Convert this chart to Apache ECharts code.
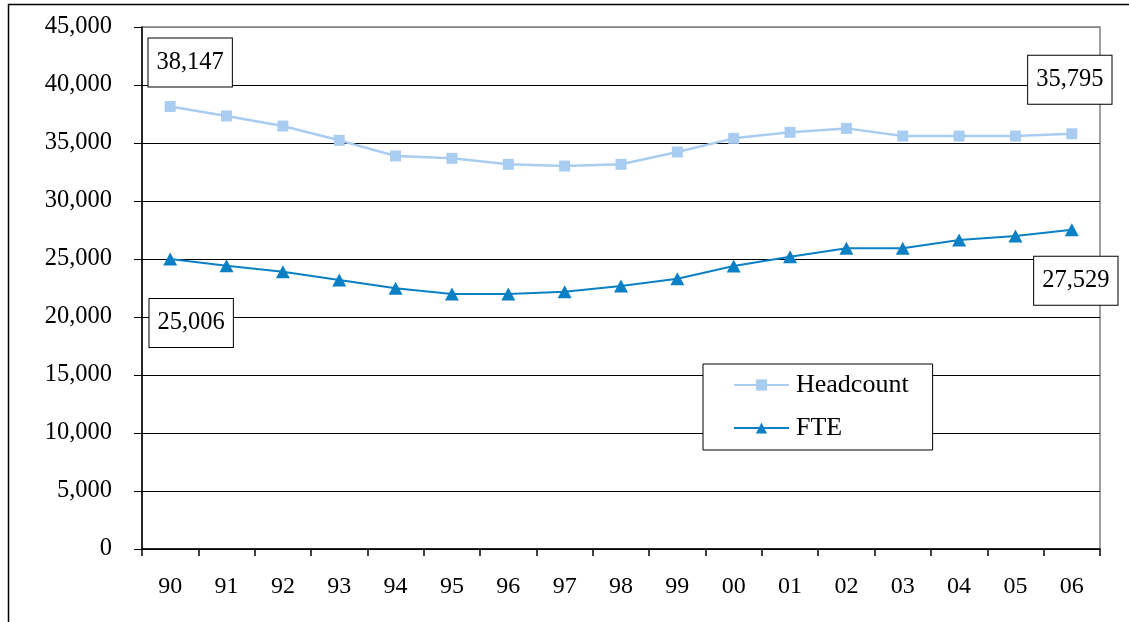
<!DOCTYPE html>
<html>
<head>
<meta charset="utf-8">
<script src="https://cdn.jsdelivr.net/npm/echarts@6/dist/echarts.min.js"></script>
<style>
  html, body { margin: 0; padding: 0; background: #fff; }
  #chart { width: 1129px; height: 622px; }
</style>
</head>
<body>
<div id="chart"></div>
<script>
// Years (two-digit), 1990 through 2006
const years = ['90','91','92','93','94','95','96','97','98','99','00','01','02','03','04','05','06'];

// Staff counts per year
const headcount = [38147, 37330, 36460, 35230, 33880, 33680, 33160, 33010, 33160, 34220, 35400, 35920, 36260, 35600, 35600, 35600, 35795];
const fte       = [25006, 24420, 23900, 23190, 22470, 21980, 21980, 22180, 22670, 23300, 24400, 25200, 25920, 25920, 26640, 26980, 27529];

// Value axis ticks
const yTicks = [0, 5000, 10000, 15000, 20000, 25000, 30000, 35000, 40000, 45000];

const FONT = '"Liberation Serif", "Times New Roman", serif';
const fmt = v => Number(v).toLocaleString('en-US');

const boxLabel = offset => ({
  show: true,
  position: 'inside',
  offset: offset,
  formatter: p => fmt(p.value),
  fontFamily: FONT,
  fontSize: 24.5,
  color: '#000',
  lineHeight: 26,
  backgroundColor: '#fff',
  borderColor: '#000',
  borderWidth: 1,
  padding: [11, 8, 11, 8]
});

// Attach boxed value labels to the first and last point of a series
function withEndLabels(values, firstOffset, lastOffset) {
  return values.map((v, i) => {
    if (i === 0) return { value: v, label: boxLabel(firstOffset) };
    if (i === values.length - 1) return { value: v, label: boxLabel(lastOffset) };
    return v;
  });
}

const gridColors = yTicks.map((t, i) => i === yTicks.length - 1 ? '#808080' : '#000');

const chart = echarts.init(document.getElementById('chart'), null, { renderer: 'canvas' });

chart.setOption({
  animation: false,
  backgroundColor: '#fff',
  textStyle: { fontFamily: FONT },
  graphic: [{
    type: 'rect',
    shape: { x: 8.5, y: 4.5, width: 1140, height: 640 },
    style: { fill: 'none', stroke: '#000', lineWidth: 1.5 },
    silent: true,
    z: 100
  }],
  grid: {
    left: 142, right: 29, top: 27, bottom: 73,
    show: true,
    borderColor: '#808080',
    borderWidth: 1.5,
    backgroundColor: 'transparent'
  },
  legend: {
    orient: 'vertical',
    left: 703,
    top: 364,
    padding: [8, 24, 9, 30],
    itemGap: 17,
    itemWidth: 55,
    itemHeight: 14,
    backgroundColor: '#fff',
    borderColor: '#000',
    borderWidth: 1,
    borderRadius: 0,
    textStyle: { fontFamily: FONT, fontSize: 26, color: '#000', padding: [0, 0, 0, 2] },
    data: ['Headcount', 'FTE']
  },
  xAxis: {
    type: 'category',
    data: years,
    boundaryGap: true,
    axisLine: { show: true, lineStyle: { color: '#000', width: 1.5 } },
    axisTick: { show: true, length: 7, lineStyle: { color: '#000', width: 1.5 } },
    axisLabel: { margin: 26, fontFamily: FONT, fontSize: 24, color: '#000' },
    splitLine: { show: false }
  },
  yAxis: {
    type: 'value',
    min: 0,
    max: 45000,
    interval: 5000,
    axisLine: { show: true, lineStyle: { color: '#000', width: 1.5 } },
    axisTick: { show: true, length: 8, lineStyle: { color: '#000', width: 1 } },
    axisLabel: { margin: 30, fontFamily: FONT, fontSize: 24.5, color: '#000', formatter: v => fmt(v) },
    splitLine: { show: true, lineStyle: { color: gridColors, width: 1 } }
  },
  series: [
    {
      name: 'Headcount',
      type: 'line',
      data: withEndLabels(headcount, [20, -44], [-2, -54]),
      symbol: 'rect',
      symbolSize: 11,
      color: '#A9CCF1',
      lineStyle: { color: '#A9CCF1', width: 2.5 },
      itemStyle: { color: '#A9CCF1' },
      z: 3
    },
    {
      name: 'FTE',
      type: 'line',
      data: withEndLabels(fte, [21, 64], [4, 51]),
      symbol: 'triangle',
      symbolSize: [14, 13],
      color: '#0B80C4',
      lineStyle: { color: '#0B80C4', width: 2 },
      itemStyle: { color: '#0B80C4' },
      z: 3
    }
  ]
});
</script>
</body>
</html>
